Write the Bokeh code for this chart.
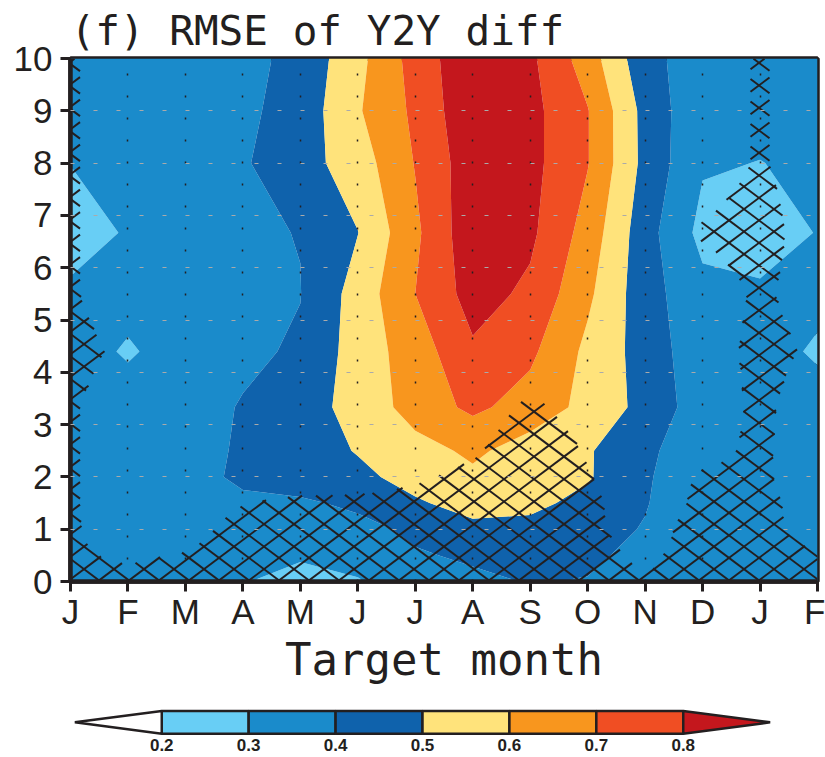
import numpy as np
from bokeh.plotting import figure
from bokeh.layouts import column
from bokeh.models import Range1d, FixedTicker
from bokeh.core.properties import value
from bokeh.embed import file_html
from bokeh.resources import INLINE

# ---------------- data ----------------
month_labels = ["J", "F", "M", "A", "M", "J", "J", "A", "S", "O", "N", "D", "J", "F"]
months = list(range(len(month_labels)))
lead_years = [0, 0.5, 1, 1.5, 2, 2.5, 3.33, 4.4, 5.5, 6.67, 8, 9, 10]
y_ticks = list(range(11))

# RMSE of year-to-year difference (rows = lead_years, cols = months)
rmse_y00 = [0.33, 0.33, 0.33, 0.305, 0.27, 0.292, 0.36, 0.38, 0.405, 0.395, 0.35, 0.33, 0.33, 0.33]
rmse_y05 = [0.33, 0.32, 0.33, 0.32, 0.31, 0.34, 0.39, 0.415, 0.43, 0.42, 0.37, 0.33, 0.33, 0.33]
rmse_y10 = [0.33, 0.33, 0.34, 0.35, 0.35, 0.37, 0.42, 0.48, 0.47, 0.43, 0.395, 0.34, 0.34, 0.33]
rmse_y15 = [0.34, 0.34, 0.35, 0.38, 0.385, 0.42, 0.49, 0.53, 0.525, 0.47, 0.405, 0.34, 0.34, 0.33]
rmse_y20 = [0.34, 0.34, 0.36, 0.42, 0.45, 0.48, 0.53, 0.58, 0.56, 0.51, 0.41, 0.34, 0.34, 0.33]
rmse_y25 = [0.35, 0.35, 0.37, 0.41, 0.46, 0.505, 0.56, 0.62, 0.553, 0.51, 0.42, 0.34, 0.35, 0.34]
rmse_y33 = [0.35, 0.34, 0.37, 0.405, 0.47, 0.524, 0.647, 0.72, 0.66, 0.57, 0.469, 0.346, 0.34, 0.33]
rmse_y44 = [0.34, 0.29, 0.34, 0.385, 0.41, 0.546, 0.648, 0.785, 0.72, 0.577, 0.458, 0.335, 0.33, 0.29]
rmse_y55 = [0.32, 0.33, 0.35, 0.37, 0.398, 0.54, 0.70, 0.84, 0.78, 0.62, 0.44, 0.33, 0.32, 0.32]
rmse_y67 = [0.25, 0.31, 0.35, 0.39, 0.402, 0.498, 0.68, 0.87, 0.82, 0.66, 0.44, 0.27, 0.24, 0.305]
rmse_y80 = [0.302, 0.33, 0.35, 0.39, 0.46, 0.55, 0.705, 0.86, 0.83, 0.705, 0.47, 0.31, 0.298, 0.32]
rmse_y90 = [0.32, 0.34, 0.35, 0.38, 0.44, 0.59, 0.72, 0.88, 0.83, 0.705, 0.467, 0.32, 0.33, 0.33]
rmse_y100 = [0.33, 0.34, 0.35, 0.37, 0.43, 0.57, 0.74, 0.88, 0.82, 0.65, 0.43, 0.35, 0.34, 0.33]

# significance measure (hatched where > 0.5)
sig_y00 = [0.7, 0.7, 0.8, 0.9, 0.9, 0.9, 0.9, 0.9, 0.9, 0.9, 0.55, 0.8, 0.8, 0.7]
sig_y05 = [0.6, 0.4, 0.55, 0.9, 0.9, 0.9, 0.9, 0.9, 0.9, 0.8, 0.35, 0.85, 0.85, 0.6]
sig_y10 = [0.6, 0.1, 0.2, 0.8, 0.9, 0.9, 0.9, 0.9, 0.9, 0.7, 0.1, 0.9, 0.8, 0.1]
sig_y15 = [0.6, 0.0, 0.1, 0.48, 0.7, 0.7, 0.75, 0.9, 0.95, 0.7, 0.0, 0.7, 0.75, 0.1]
sig_y20 = [0.6, 0.0, 0.0, 0.0, 0.0, 0.1, 0.4, 0.7, 0.95, 0.55, 0.0, 0.6, 0.65, 0.0]
sig_y25 = [0.6, 0.0, 0.0, 0.0, 0.0, 0.0, 0.0, 0.4, 0.95, 0.45, 0.0, 0.3, 0.65, 0.0]
sig_y33 = [0.6, 0.0, 0.0, 0.0, 0.0, 0.0, 0.0, 0.1, 0.65, 0.2, 0.0, 0.0, 0.7, 0.0]
sig_y44 = [0.8, 0.3, 0.0, 0.0, 0.0, 0.0, 0.0, 0.0, 0.0, 0.0, 0.0, 0.0, 0.8, 0.35]
sig_y55 = [0.6, 0.0, 0.0, 0.0, 0.0, 0.0, 0.0, 0.0, 0.0, 0.0, 0.0, 0.0, 0.65, 0.1]
sig_y67 = [0.6, 0.0, 0.0, 0.0, 0.0, 0.0, 0.0, 0.0, 0.0, 0.0, 0.0, 0.6, 0.9, 0.0]
sig_y80 = [0.6, 0.0, 0.0, 0.0, 0.0, 0.0, 0.0, 0.0, 0.0, 0.0, 0.0, 0.0, 0.6, 0.0]
sig_y90 = [0.6, 0.0, 0.0, 0.0, 0.0, 0.0, 0.0, 0.0, 0.0, 0.0, 0.0, 0.0, 0.6, 0.0]
sig_y100 = [0.6, 0.0, 0.0, 0.0, 0.0, 0.0, 0.0, 0.0, 0.0, 0.0, 0.0, 0.0, 0.6, 0.0]

levels = [0.0, 0.2, 0.3, 0.4, 0.5, 0.6, 0.7, 0.8, 1.2]
colors = ["#FFFFFF", "#68CEF5", "#1A8BCB", "#0F62AC", "#FFE37B", "#F8961E", "#F04E23", "#C4171D"]
cb_labels = ["0.2", "0.3", "0.4", "0.5", "0.6", "0.7", "0.8"]
sig_threshold = 0.5

title_text = "(f) RMSE of Y2Y diff"
xlabel_text = "Target month"

# ---------------- main plot ----------------
Z = np.array([rmse_y00, rmse_y05, rmse_y10, rmse_y15, rmse_y20, rmse_y25, rmse_y33,
              rmse_y44, rmse_y55, rmse_y67, rmse_y80, rmse_y90, rmse_y100])
S = np.array([sig_y00, sig_y05, sig_y10, sig_y15, sig_y20, sig_y25, sig_y33,
              sig_y44, sig_y55, sig_y67, sig_y80, sig_y90, sig_y100])
xg = np.array(months, dtype=float)
yg = np.array(lead_years, dtype=float)
X, Y = np.meshgrid(xg, yg)

FONT = "Liberation Sans"
WIDE = "DejaVu Sans Mono"
INK = "#231f20"
FW, FH = 747, 523

p = figure(frame_width=FW, frame_height=FH,
           x_range=Range1d(xg[0], xg[-1]), y_range=Range1d(y_ticks[0], y_ticks[-1]),
           output_backend="svg", toolbar_location=None,
           min_border_left=70, min_border_right=8, min_border_top=0, min_border_bottom=0,
           title=title_text)
p.title.text_font = WIDE
p.title.text_font_size = "41px"
p.title.text_font_style = "normal"
p.title.text_color = INK
p.title.align = "left"
p.title.standoff = 8

p.contour(X, Y, Z, levels, fill_color=colors, line_color=None)


# ---- cross-hatching of the significance field (drawn as line segments) ----
def sig_at(xq, yq):
    i = np.clip(np.searchsorted(xg, xq, side="right") - 1, 0, len(xg) - 2)
    j = np.clip(np.searchsorted(yg, yq, side="right") - 1, 0, len(yg) - 2)
    tx = (xq - xg[i]) / (xg[i + 1] - xg[i])
    ty = (yq - yg[j]) / (yg[j + 1] - yg[j])
    return (S[j, i] * (1 - tx) * (1 - ty) + S[j, i + 1] * tx * (1 - ty)
            + S[j + 1, i] * (1 - tx) * ty + S[j + 1, i + 1] * tx * ty)


def hatch_segments(slope, spacing):
    px = np.linspace(0, FW, FW * 2 + 1)
    segs_x, segs_y = [], []
    step = abs(slope) * spacing
    if slope > 0:
        cs = np.arange(-slope * FW, FH + step, step)
    else:
        cs = np.arange(0, FH - slope * FW + step, step)
    for c in cs:
        py = slope * px + c
        ok = (py >= 0) & (py <= FH)
        if not ok.any():
            continue
        dx = xg[0] + px / FW * (xg[-1] - xg[0])
        dy = y_ticks[0] + py / FH * (y_ticks[-1] - y_ticks[0])
        inside = ok.copy()
        inside[ok] = sig_at(dx[ok], dy[ok]) > sig_threshold
        d = np.diff(np.concatenate([[0], inside.astype(int), [0]]))
        starts = np.where(d == 1)[0]
        ends = np.where(d == -1)[0] - 1
        for s0, e0 in zip(starts, ends):
            if e0 > s0:
                segs_x.append([dx[s0], dx[e0]])
                segs_y.append([dy[s0], dy[e0]])
    return segs_x, segs_y


hx1, hy1 = hatch_segments(0.75, 30)
hx2, hy2 = hatch_segments(-0.75, 30)
p.multi_line(xs=hx1 + hx2, ys=hy1 + hy2, line_color=INK, line_width=2)

p.xaxis.ticker = FixedTicker(ticks=months)
p.xaxis.major_label_overrides = {m: lab for m, lab in zip(months, month_labels)}
p.yaxis.ticker = FixedTicker(ticks=y_ticks)
p.xaxis.axis_label = xlabel_text

for ax in (p.xaxis, p.yaxis):
    ax.axis_line_width = 4.5
    ax.axis_line_color = INK
    ax.major_tick_line_width = 3
    ax.major_tick_line_color = INK
    ax.major_tick_out = 10
    ax.major_tick_in = 0
    ax.minor_tick_line_color = None
    ax.major_label_text_font = FONT
    ax.major_label_text_font_size = "35px"
    ax.major_label_text_color = INK
p.xaxis.major_label_standoff = 0
p.yaxis.major_label_standoff = 8
p.xaxis.axis_label_text_font = WIDE
p.xaxis.axis_label_text_font_size = "44px"
p.xaxis.axis_label_text_font_style = "normal"
p.xaxis.axis_label_text_color = INK
p.xaxis.axis_label_standoff = 0

p.outline_line_color = INK
p.outline_line_width = 4.5

p.xgrid.ticker = FixedTicker(ticks=months)
p.xgrid.grid_line_color = INK
p.xgrid.grid_line_width = 1.5
p.xgrid.grid_line_dash = "2 20"
p.xgrid.level = "annotation"
p.ygrid.ticker = FixedTicker(ticks=y_ticks)
p.ygrid.grid_line_color = "#aaaaaa"
p.ygrid.grid_line_width = 1
p.ygrid.grid_line_dash = "4 19"
p.ygrid.level = "annotation"

# ---------------- colour bar ----------------
nb = len(colors)
idx = np.arange(nb, dtype=float)
cb = figure(frame_width=704, frame_height=48,
            x_range=Range1d(idx[0] - 0.05, idx[-1] + 1.05), y_range=Range1d(-0.95, 1.15),
            output_backend="svg", toolbar_location=None,
            min_border_left=69, min_border_right=52, min_border_top=20, min_border_bottom=0)
cb.outline_line_color = None
cb.grid.visible = False
cb.axis.visible = False
cb.quad(left=idx[1:-1], right=idx[1:-1] + 1, bottom=0, top=1,
        fill_color=colors[1:-1], line_color=INK, line_width=2.5)
cb.patches(xs=[[idx[1], idx[1], idx[0]], [idx[-1], idx[-1], idx[-1] + 1]],
           ys=[[0, 1, 0.5], [0, 1, 0.5]],
           fill_color=[colors[0], colors[-1]], line_color=INK, line_width=2.5)
cb.text(x=idx[1:], y=-0.22, text=cb_labels, text_align="center", text_baseline="top",
        text_font=value(FONT), text_font_size=value("17px"), text_font_style="bold",
        text_color=INK)

layout = column(p, cb, spacing=0)
open("out.html", "w").write(file_html(layout, INLINE))
